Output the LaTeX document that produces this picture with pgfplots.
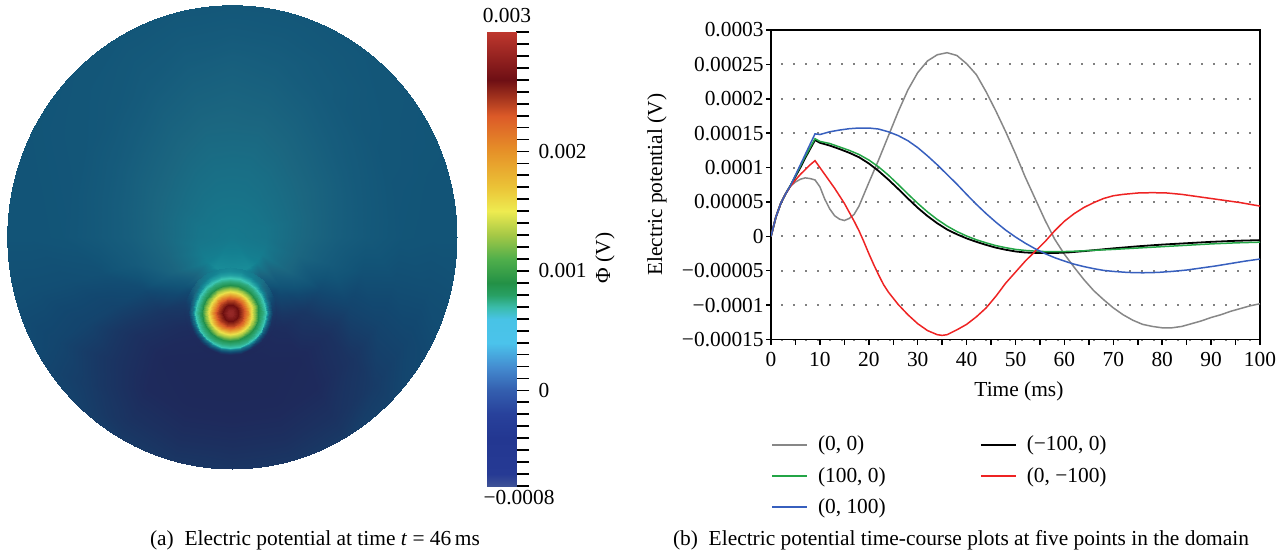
\documentclass[border=0pt]{standalone}
\usepackage{fontspec}
\setmainfont{Liberation Serif}
\usepackage{pgfplots}
\pgfplotsset{compat=1.18}

\definecolor{cgray}{RGB}{135,135,135}
\definecolor{cgreen}{RGB}{35,165,70}
\definecolor{cblue}{RGB}{55,95,190}
\definecolor{cred}{RGB}{238,35,35}

% Phi in units of 1e-4 V, positions = value + 8
\pgfplotsset{
  colormap={phibar}{rgb255(0pt)=(62,82,150); rgb255(1pt)=(38,58,148); rgb255(4pt)=(35,55,145);
    rgb255(6pt)=(40,65,155); rgb255(8pt)=(52,95,175); rgb255(10pt)=(68,140,208);
    rgb255(12pt)=(75,195,235); rgb255(14pt)=(72,195,230); rgb255(15pt)=(58,188,170);
    rgb255(16pt)=(40,160,100); rgb255(17pt)=(35,145,70); rgb255(19pt)=(80,175,75);
    rgb255(21pt)=(165,200,70); rgb255(23pt)=(238,235,80); rgb255(25pt)=(235,195,55);
    rgb255(28pt)=(230,145,40); rgb255(31pt)=(220,90,40); rgb255(34pt)=(110,15,20);
    rgb255(38pt)=(190,55,45)},
  colormap={phidisk}{rgb255(0pt)=(28,36,80); rgb255(3pt)=(30,42,92); rgb255(5pt)=(25,55,100);
    rgb255(7pt)=(18,72,112); rgb255(8pt)=(18,84,119); rgb255(9pt)=(22,92,124);
    rgb255(10pt)=(27,102,128); rgb255(11pt)=(24,114,136); rgb255(12pt)=(20,128,145);
    rgb255(13pt)=(28,150,158); rgb255(15pt)=(60,198,180); rgb255(17pt)=(35,145,75);
    rgb255(20pt)=(150,195,70); rgb255(23pt)=(235,225,75); rgb255(27pt)=(230,150,45);
    rgb255(30pt)=(215,90,40); rgb255(34pt)=(110,15,15); rgb255(38pt)=(165,50,48)},
}

\begin{document}
\fontsize{10.7}{12.8}\selectfont
\begin{tikzpicture}
\useasboundingbox (0pt,0pt) rectangle (643pt,-278pt);

% ---------- (a) potential on the disk ----------
\begin{axis}[at={(116pt,-118.5pt)}, anchor=center, x=112.5pt, y=116pt,
  xmin=-1.02, xmax=1.02, ymin=-1.02, ymax=1.02, hide axis,
  colormap name=phidisk, point meta min=-8, point meta max=30]
\clip (axis cs:0,0) ellipse [x radius=1, y radius=1];
\addplot[surf, shader=interp, data cs=polar, mesh/cols=25, point meta=explicit] coordinates {
(0,0)[3.5] (15,0)[3.5] (30,0)[3.5] (45,0)[3.5] (60,0)[3.5] (75,0)[3.5] (90,0)[3.5] (105,0)[3.5] (120,0)[3.5] (135,0)[3.5] (150,0)[3.5] (165,0)[3.5] (180,0)[3.5] (195,0)[3.5] (210,0)[3.5] (225,0)[3.5] (240,0)[3.5] (255,0)[3.5] (270,0)[3.5] (285,0)[3.5] (300,0)[3.5] (315,0)[3.5] (330,0)[3.5] (345,0)[3.5] (360,0)[3.5]
(0,0.15)[3.2] (15,0.15)[3.2] (30,0.15)[3.1] (45,0.15)[3.1] (60,0.15)[3.1] (75,0.15)[3.1] (90,0.15)[3.1] (105,0.15)[3.1] (120,0.15)[3.1] (135,0.15)[3.1] (150,0.15)[3.1] (165,0.15)[3.2] (180,0.15)[3.2] (195,0.15)[3.4] (210,0.15)[3.7] (225,0.15)[4] (240,0.15)[4.5] (255,0.15)[4.6] (270,0.15)[4.6] (285,0.15)[4.6] (300,0.15)[4.5] (315,0.15)[4] (330,0.15)[3.7] (345,0.15)[3.4] (360,0.15)[3.2]
(0,0.3)[2.2] (15,0.3)[2.3] (30,0.3)[2.35] (45,0.3)[2.45] (60,0.3)[2.6] (75,0.3)[2.7] (90,0.3)[2.7] (105,0.3)[2.7] (120,0.3)[2.6] (135,0.3)[2.45] (150,0.3)[2.35] (165,0.3)[2.3] (180,0.3)[2.2] (195,0.3)[2.0] (210,0.3)[1.8] (225,0.3)[0] (240,0.3)[-2] (255,0.3)[-2.5] (270,0.3)[-2.5] (285,0.3)[-2.5] (300,0.3)[-2] (315,0.3)[0] (330,0.3)[1.8] (345,0.3)[2.0] (360,0.3)[2.2]
(0,0.45)[1.3] (15,0.45)[1.4] (30,0.45)[1.6] (45,0.45)[1.75] (60,0.45)[2.0] (75,0.45)[2.2] (90,0.45)[2.2] (105,0.45)[2.2] (120,0.45)[2.0] (135,0.45)[1.75] (150,0.45)[1.6] (165,0.45)[1.4] (180,0.45)[1.3] (195,0.45)[0.8] (210,0.45)[-0.8] (225,0.45)[-3] (240,0.45)[-4.5] (255,0.45)[-5] (270,0.45)[-5.2] (285,0.45)[-5] (300,0.45)[-4.5] (315,0.45)[-3] (330,0.45)[-0.8] (345,0.45)[0.8] (360,0.45)[1.3]
(0,0.6)[0.6] (15,0.6)[0.7] (30,0.6)[0.85] (45,0.6)[1.1] (60,0.6)[1.4] (75,0.6)[1.65] (90,0.6)[1.75] (105,0.6)[1.65] (120,0.6)[1.4] (135,0.6)[1.1] (150,0.6)[0.85] (165,0.6)[0.7] (180,0.6)[0.6] (195,0.6)[-0.3] (210,0.6)[-1.5] (225,0.6)[-4] (240,0.6)[-5.3] (255,0.6)[-5.6] (270,0.6)[-5.6] (285,0.6)[-5.6] (300,0.6)[-5.3] (315,0.6)[-4] (330,0.6)[-1.5] (345,0.6)[-0.3] (360,0.6)[0.6]
(0,0.75)[0.1] (15,0.75)[0.15] (30,0.75)[0.3] (45,0.75)[0.5] (60,0.75)[0.85] (75,0.75)[1.15] (90,0.75)[1.3] (105,0.75)[1.15] (120,0.75)[0.85] (135,0.75)[0.5] (150,0.75)[0.3] (165,0.75)[0.15] (180,0.75)[0.1] (195,0.75)[-0.5] (210,0.75)[-1.5] (225,0.75)[-3.5] (240,0.75)[-5] (255,0.75)[-5.3] (270,0.75)[-5.3] (285,0.75)[-5.3] (300,0.75)[-5] (315,0.75)[-3.5] (330,0.75)[-1.5] (345,0.75)[-0.5] (360,0.75)[0.1]
(0,0.9)[0] (15,0.9)[0.05] (30,0.9)[0.15] (45,0.9)[0.3] (60,0.9)[0.5] (75,0.9)[0.65] (90,0.9)[0.7] (105,0.9)[0.65] (120,0.9)[0.5] (135,0.9)[0.3] (150,0.9)[0.15] (165,0.9)[0.05] (180,0.9)[0] (195,0.9)[-0.5] (210,0.9)[-1.3] (225,0.9)[-2.5] (240,0.9)[-3.8] (255,0.9)[-4.2] (270,0.9)[-4.2] (285,0.9)[-4.2] (300,0.9)[-3.8] (315,0.9)[-2.5] (330,0.9)[-1.3] (345,0.9)[-0.5] (360,0.9)[0]
(0,1.06)[0] (15,1.06)[0] (30,1.06)[0.05] (45,1.06)[0.1] (60,1.06)[0.15] (75,1.06)[0.2] (90,1.06)[0.2] (105,1.06)[0.2] (120,1.06)[0.15] (135,1.06)[0.1] (150,1.06)[0.05] (165,1.06)[0] (180,1.06)[0] (195,1.06)[-0.4] (210,1.06)[-0.8] (225,1.06)[-1.3] (240,1.06)[-2] (255,1.06)[-2.5] (270,1.06)[-2.7] (285,1.06)[-2.5] (300,1.06)[-2] (315,1.06)[-1.3] (330,1.06)[-0.8] (345,1.06)[-0.4] (360,1.06)[0]
};
\end{axis}

% source blob, radii in pixels of the reference
\begin{axis}[at={(115.25pt,-156.5pt)}, anchor=center, x=0.5pt, y=0.5pt,
  xmin=-50, xmax=50, ymin=-50, ymax=50, hide axis,
  colormap name=phidisk, point meta min=-8, point meta max=30]
\addplot[surf, shader=interp, data cs=polar, mesh/cols=25, point meta=explicit] coordinates {
(0,0)[29] (15,0)[29] (30,0)[29] (45,0)[29] (60,0)[29] (75,0)[29] (90,0)[29] (105,0)[29] (120,0)[29] (135,0)[29] (150,0)[29] (165,0)[29] (180,0)[29] (195,0)[29] (210,0)[29] (225,0)[29] (240,0)[29] (255,0)[29] (270,0)[29] (285,0)[29] (300,0)[29] (315,0)[29] (330,0)[29] (345,0)[29] (360,0)[29]
(0,3)[28.5] (15,3)[28.5] (30,3)[28.5] (45,3)[28.5] (60,3)[28.5] (75,3)[28.5] (90,3)[28.5] (105,3)[28.5] (120,3)[28.5] (135,3)[28.5] (150,3)[28.5] (165,3)[28.5] (180,3)[28.5] (195,3)[28.5] (210,3)[28.5] (225,3)[28.5] (240,3)[28.5] (255,3)[28.5] (270,3)[28.5] (285,3)[28.5] (300,3)[28.5] (315,3)[28.5] (330,3)[28.5] (345,3)[28.5] (360,3)[28.5]
(0,8)[26] (15,8)[26] (30,8)[26] (45,8)[26] (60,8)[26] (75,8)[26] (90,8)[26] (105,8)[26] (120,8)[26] (135,8)[26] (150,8)[26] (165,8)[26] (180,8)[26] (195,8)[26] (210,8)[26] (225,8)[26] (240,8)[26] (255,8)[26] (270,8)[26] (285,8)[26] (300,8)[26] (315,8)[26] (330,8)[26] (345,8)[26] (360,8)[26]
(0,13)[23] (15,13)[23] (30,13)[23] (45,13)[23] (60,13)[23] (75,13)[23] (90,13)[23] (105,13)[23] (120,13)[23] (135,13)[23] (150,13)[23] (165,13)[23] (180,13)[23] (195,13)[23] (210,13)[23] (225,13)[23] (240,13)[23] (255,13)[23] (270,13)[23] (285,13)[23] (300,13)[23] (315,13)[23] (330,13)[23] (345,13)[23] (360,13)[23]
(0,17)[19.5] (15,17)[19.5] (30,17)[19.5] (45,17)[19.5] (60,17)[19.5] (75,17)[19.5] (90,17)[19.5] (105,17)[19.5] (120,17)[19.5] (135,17)[19.5] (150,17)[19.5] (165,17)[19.5] (180,17)[19.5] (195,17)[19.5] (210,17)[19.5] (225,17)[19.5] (240,17)[19.5] (255,17)[19.5] (270,17)[19.5] (285,17)[19.5] (300,17)[19.5] (315,17)[19.5] (330,17)[19.5] (345,17)[19.5] (360,17)[19.5]
(0,21)[15.5] (15,21)[15.5] (30,21)[15.5] (45,21)[15.5] (60,21)[15.5] (75,21)[15.5] (90,21)[15.5] (105,21)[15.5] (120,21)[15.5] (135,21)[15.5] (150,21)[15.5] (165,21)[15.5] (180,21)[15.5] (195,21)[15.5] (210,21)[15.5] (225,21)[15.5] (240,21)[15.5] (255,21)[15.5] (270,21)[15.5] (285,21)[15.5] (300,21)[15.5] (315,21)[15.5] (330,21)[15.5] (345,21)[15.5] (360,21)[15.5]
(0,24)[12.5] (15,24)[12.5] (30,24)[12.5] (45,24)[12.5] (60,24)[12.5] (75,24)[12.5] (90,24)[12.5] (105,24)[12.5] (120,24)[12.5] (135,24)[12.5] (150,24)[12.5] (165,24)[12.5] (180,24)[12.5] (195,24)[12.5] (210,24)[12.5] (225,24)[12.5] (240,24)[12.5] (255,24)[12.5] (270,24)[12.5] (285,24)[12.5] (300,24)[12.5] (315,24)[12.5] (330,24)[12.5] (345,24)[12.5] (360,24)[12.5]
(0,28)[9] (15,28)[9] (30,28)[9] (45,28)[9] (60,28)[9] (75,28)[9] (90,28)[9] (105,28)[9] (120,28)[9] (135,28)[9] (150,28)[9] (165,28)[9] (180,28)[9] (195,28)[9] (210,28)[9] (225,28)[9] (240,28)[9] (255,28)[9] (270,28)[9] (285,28)[9] (300,28)[9] (315,28)[9] (330,28)[9] (345,28)[9] (360,28)[9]
(0,32)[8] (15,32)[8] (30,32)[8] (45,32)[8] (60,32)[8] (75,32)[8] (90,32)[8] (105,32)[8] (120,32)[8] (135,32)[8] (150,32)[8] (165,32)[8] (180,32)[8] (195,32)[8] (210,32)[8] (225,32)[8] (240,32)[8] (255,32)[8] (270,32)[8] (285,32)[8] (300,32)[8] (315,32)[8] (330,32)[8] (345,32)[8] (360,32)[8]
(0,35)[7] (15,35)[7] (30,35)[7] (45,35)[7] (60,35)[7] (75,35)[7] (90,35)[7] (105,35)[7] (120,35)[7] (135,35)[7] (150,35)[7] (165,35)[7] (180,35)[7] (195,35)[7] (210,35)[7] (225,35)[7] (240,35)[7] (255,35)[7] (270,35)[7] (285,35)[7] (300,35)[7] (315,35)[7] (330,35)[7] (345,35)[7] (360,35)[7]
(0,38)[2.5] (15,38)[3.5] (30,38)[4.5] (45,38)[5] (60,38)[5.3] (75,38)[5.5] (90,38)[5.5] (105,38)[5.5] (120,38)[5.3] (135,38)[5] (150,38)[4.5] (165,38)[3.5] (180,38)[2.5] (195,38)[2] (210,38)[1.5] (225,38)[1] (240,38)[1] (255,38)[1] (270,38)[1] (285,38)[1] (300,38)[1] (315,38)[1] (330,38)[1.5] (345,38)[2] (360,38)[2.5]
(0,42)[-3] (15,42)[-1] (30,42)[1.5] (45,42)[3.2] (60,42)[4.0] (75,42)[4.4] (90,42)[4.5] (105,42)[4.4] (120,42)[4.0] (135,42)[3.2] (150,42)[1.5] (165,42)[-1] (180,42)[-3] (195,42)[-4] (210,42)[-4.5] (225,42)[-5] (240,42)[-5.3] (255,42)[-5.5] (270,42)[-5.5] (285,42)[-5.5] (300,42)[-5.3] (315,42)[-5] (330,42)[-4.5] (345,42)[-4] (360,42)[-3]
(0,46)[-3.5] (15,46)[-2] (30,46)[0.5] (45,46)[2.6] (60,46)[3.6] (75,46)[4.1] (90,46)[4.3] (105,46)[4.1] (120,46)[3.6] (135,46)[2.6] (150,46)[0.5] (165,46)[-2] (180,46)[-3.5] (195,46)[-4.5] (210,46)[-5] (225,46)[-5.3] (240,46)[-5.5] (255,46)[-5.6] (270,46)[-5.6] (285,46)[-5.6] (300,46)[-5.5] (315,46)[-5.3] (330,46)[-5] (345,46)[-4.5] (360,46)[-3.5]
};
\end{axis}

% colour bar
\begin{axis}[at={(243.35pt,-243pt)}, anchor=south west, scale only axis,
  width=14.65pt, height=227pt, xmin=0, xmax=1, ymin=-8, ymax=30,
  axis x line=none, axis y line*=right, y axis line style={draw=none},
  colormap name=phibar, point meta min=-8, point meta max=30,
  tick align=center, ytick={0,10,20}, yticklabels={0,0.001,0.002},
  minor ytick={-8,-7,...,30},
  major tick length=11pt, minor tick length=6.5pt,
  major y tick style={xshift=1pt}, minor y tick style={xshift=3.25pt},
  every tick/.style={black, line width=0.9pt},
  yticklabel style={anchor=west, xshift=2pt}]
\addplot[surf, shader=interp, mesh/cols=2, point meta=explicit] coordinates {
(0,-8)[-8] (1,-8)[-8] (0,-7)[-7] (1,-7)[-7] (0,-4)[-4] (1,-4)[-4] (0,-2)[-2] (1,-2)[-2]
(0,0)[0] (1,0)[0] (0,2)[2] (1,2)[2] (0,4)[4] (1,4)[4] (0,6)[6] (1,6)[6] (0,7)[7] (1,7)[7]
(0,8)[8] (1,8)[8] (0,9)[9] (1,9)[9] (0,11)[11] (1,11)[11] (0,13)[13] (1,13)[13]
(0,15)[15] (1,15)[15] (0,17)[17] (1,17)[17] (0,20)[20] (1,20)[20] (0,23)[23] (1,23)[23]
(0,26)[26] (1,26)[26] (0,30)[30] (1,30)[30]
};
\end{axis}
\node at (253.5pt,-8pt) {0.003};
\node at (259.5pt,-249pt) {−0.0008};
\node[rotate=90] at (302.5pt,-129pt) {Φ (V)};

% ---------- (b) time courses ----------
\begin{axis}[at={(385.5pt,-169.75pt)}, anchor=south west, scale only axis,
  width=244.5pt, height=154.75pt,
  xmin=0, xmax=100, ymin=-0.00015, ymax=0.0003,
  xtick={0,10,...,100}, minor x tick num=1,
  ytick={-0.00015,-0.0001,-0.00005,0,0.00005,0.0001,0.00015,0.0002,0.00025,0.0003},
  yticklabels={−0.00015,−0.0001,−0.00005,0,0.00005,0.0001,0.00015,0.0002,0.00025,0.0003},
  scaled y ticks=false, /pgf/number format/assume math mode=true,
  tick pos=left, tick align=outside, major tick length=2.5pt, minor tick length=2.5pt,
  every tick/.style={black, line width=0.75pt},
  axis line style={line width=0.75pt},
  ymajorgrids, major grid style={gray, line width=1pt, dash pattern=on 1pt off 5pt, dash phase=-5pt},
  yticklabel style={inner sep=1pt},
  xlabel={Time (ms)}, ylabel={Electric potential (V)},
  xlabel style={at={(axis description cs:0.507,-0.168)}, anchor=center},
  ylabel style={at={(axis description cs:-0.233,0.5)}, anchor=center},
  no markers, legend columns=2, legend cell align=left,
  legend image code/.code={\draw[#1, line width=1pt] (0pt,0pt) -- (17.5pt,0pt);},
  legend style={at={(axis description cs:0,-0.305)}, anchor=north west, draw=none, fill=none,
    inner sep=0pt, outer sep=0pt, nodes={inner sep=1pt}, row sep=4.6pt,
    /tikz/every odd column/.append style={column sep=4pt},
    /tikz/every even column/.append style={column sep=46pt}}]
\addplot[cgray, line width=0.75pt] coordinates {
(0,0) (1,2.8e-5) (2,4.8e-5) (3,6.2e-5) (4,7.3e-5) (5,7.9e-5) (6,8.3e-5) (7,8.5e-5) (8,8.4e-5) (9,8.2e-5)
(10,7.2e-5) (11,5.4e-5) (12,4.0e-5) (13,3.0e-5) (14,2.5e-5) (15,2.3e-5) (16,2.6e-5) (17,3.2e-5) (18,4.4e-5) (19,6.1e-5)
(20,7.8e-5) (22,1.11e-4) (24,1.46e-4) (26,1.81e-4) (28,2.13e-4) (30,2.38e-4) (32,2.55e-4) (34,2.64e-4) (36,2.67e-4) (38,2.63e-4)
(40,2.51e-4) (42,2.35e-4) (44,2.1e-4) (46,1.82e-4) (48,1.52e-4) (50,1.2e-4) (52,8.6e-5) (54,5.5e-5) (56,2.4e-5) (58,-4e-6)
(60,-2.6e-5) (62,-4.5e-5) (64,-6.3e-5) (66,-7.9e-5) (68,-9.2e-5) (70,-1.04e-4) (72,-1.14e-4) (74,-1.22e-4) (76,-1.28e-4) (78,-1.31e-4)
(80,-1.33e-4) (82,-1.33e-4) (84,-1.31e-4) (86,-1.27e-4) (88,-1.23e-4) (90,-1.18e-4) (92,-1.14e-4) (94,-1.09e-4) (96,-1.05e-4) (98,-1.01e-4) (100,-9.8e-5)
};
\addlegendentry{(0, 0)}
\addplot[black, line width=0.9pt] coordinates {
(0,0) (1,2.8e-5) (2,4.8e-5) (3,6.2e-5) (4,7.4e-5) (5,8.7e-5) (6,1.0e-4) (7,1.14e-4) (8,1.27e-4) (9,1.40e-4)
(10,1.36e-4) (12,1.32e-4) (14,1.27e-4) (16,1.215e-4) (18,1.15e-4) (20,1.06e-4) (22,9.5e-5) (24,8.25e-5) (26,6.9e-5) (28,5.5e-5)
(30,4.15e-5) (32,2.95e-5) (34,1.9e-5) (36,1.0e-5) (38,3e-6) (40,-3e-6) (42,-8e-6) (44,-1.25e-5) (46,-1.65e-5) (48,-1.95e-5)
(50,-2.2e-5) (52,-2.35e-5) (55,-2.43e-5) (58,-2.43e-5) (61,-2.33e-5) (64,-2.15e-5) (67,-1.95e-5) (70,-1.75e-5) (75,-1.45e-5)
(80,-1.2e-5) (85,-1.0e-5) (90,-8e-6) (95,-6.5e-6) (100,-5.5e-6)
};
\addlegendentry{(−100, 0)}
\addplot[cgreen, line width=0.75pt] coordinates {
(0,0) (1,2.8e-5) (2,4.8e-5) (3,6.2e-5) (4,7.4e-5) (5,8.8e-5) (6,1.02e-4) (7,1.16e-4) (8,1.29e-4) (9,1.42e-4)
(10,1.38e-4) (12,1.35e-4) (14,1.3e-4) (16,1.25e-4) (18,1.19e-4) (20,1.11e-4) (22,1.01e-4) (24,8.9e-5) (26,7.55e-5) (28,6.15e-5)
(30,4.8e-5) (32,3.55e-5) (34,2.45e-5) (36,1.5e-5) (38,7e-6) (40,5e-7) (42,-5e-6) (44,-9.5e-6) (46,-1.35e-5) (48,-1.65e-5)
(50,-1.9e-5) (52,-2.05e-5) (55,-2.2e-5) (58,-2.22e-5) (61,-2.2e-5) (64,-2.1e-5) (67,-2.0e-5) (70,-1.9e-5) (75,-1.7e-5)
(80,-1.5e-5) (85,-1.3e-5) (90,-1.1e-5) (95,-9.5e-6) (100,-8.5e-6)
};
\addlegendentry{(100, 0)}
\addplot[cred, line width=0.75pt] coordinates {
(0,0) (1,2.8e-5) (2,4.8e-5) (3,6.2e-5) (4,7.3e-5) (5,8.2e-5) (6,9.0e-5) (7,9.7e-5) (8,1.04e-4) (9,1.1e-4)
(10,1.0e-4) (11,9.0e-5) (12,8.0e-5) (13,7.0e-5) (14,5.9e-5) (15,4.8e-5) (16,3.5e-5) (17,2.2e-5) (18,8e-6) (19,-8e-6)
(20,-2.5e-5) (21,-4.1e-5) (22,-5.6e-5) (23,-7.0e-5) (24,-8.1e-5) (26,-9.9e-5) (28,-1.14e-4) (30,-1.27e-4) (32,-1.37e-4) (34,-1.43e-4)
(35,-1.44e-4) (36,-1.43e-4) (38,-1.36e-4) (40,-1.28e-4) (42,-1.17e-4) (44,-1.04e-4) (46,-8.7e-5) (48,-6.8e-5) (50,-5.2e-5) (52,-3.6e-5)
(54,-2.2e-5) (56,-8e-6) (58,8e-6) (60,2.2e-5) (62,3.3e-5) (64,4.2e-5) (66,4.9e-5) (68,5.5e-5) (70,5.9e-5) (72,6.1e-5)
(75,6.3e-5) (78,6.35e-5) (81,6.3e-5) (84,6.1e-5) (87,5.8e-5) (90,5.5e-5) (93,5.2e-5) (96,4.9e-5) (100,4.4e-5)
};
\addlegendentry{(0, −100)}
\addplot[cblue, line width=0.75pt] coordinates {
(0,0) (1,2.8e-5) (2,4.8e-5) (3,6.2e-5) (4,7.4e-5) (5,8.9e-5) (6,1.04e-4) (7,1.19e-4) (8,1.34e-4) (9,1.49e-4)
(10,1.48e-4) (11,1.5e-4) (12,1.52e-4) (14,1.545e-4) (16,1.565e-4) (18,1.575e-4) (20,1.575e-4) (22,1.56e-4) (24,1.52e-4) (26,1.465e-4)
(28,1.39e-4) (30,1.29e-4) (32,1.17e-4) (34,1.04e-4) (36,9.0e-5) (38,7.6e-5) (40,6.1e-5) (42,4.65e-5) (44,3.3e-5) (46,2.05e-5)
(48,9e-6) (50,-1e-6) (52,-1.0e-5) (54,-1.8e-5) (56,-2.5e-5) (58,-3.1e-5) (60,-3.6e-5) (62,-4.05e-5) (64,-4.4e-5) (66,-4.7e-5)
(68,-4.95e-5) (70,-5.1e-5) (73,-5.25e-5) (76,-5.3e-5) (79,-5.25e-5) (82,-5.1e-5) (85,-4.9e-5) (88,-4.6e-5) (91,-4.3e-5) (94,-3.95e-5)
(97,-3.6e-5) (100,-3.3e-5)
};
\addlegendentry{(0, 100)}
\end{axis}

\node[anchor=base] at (157.5pt,-272.7pt) {(a)\enspace Electric potential at time \textit{t} = 46\,ms};
\node[anchor=base] at (480.5pt,-272.7pt) {(b)\enspace Electric potential time-course plots at five points in the domain};
\end{tikzpicture}
\end{document}
